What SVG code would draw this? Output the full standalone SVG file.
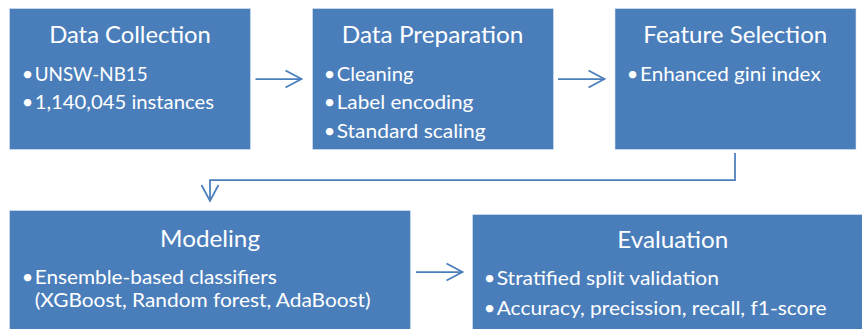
<svg xmlns="http://www.w3.org/2000/svg" width="862" height="329" viewBox="0 0 862 329">
<style>
.box{fill:#4A7EBB;stroke:#dbe5f1;stroke-width:1;stroke-opacity:0.6}
.t{font-family:Lato,"Open Sans",sans-serif;fill:#ffffff;font-size:24px;text-anchor:middle}
.b{font-family:Lato,"Open Sans",sans-serif;fill:#ffffff;font-size:20px}
.d{font-family:Lato,"Open Sans",sans-serif;fill:#ffffff;font-size:20px;text-anchor:middle}
.c{fill:none;stroke:#4A7EBB;stroke-width:1.75}
</style>
<defs>
<marker id="ah" markerUnits="userSpaceOnUse" markerWidth="24" markerHeight="24" viewBox="-20 -12 24 24" refX="0" refY="0" orient="auto">
<path d="M-16,-8.5 L0,0 L-16,8.5" fill="none" stroke="#4A7EBB" stroke-width="1.75"/>
</marker>
</defs>
<rect width="862" height="329" fill="#ffffff"/>
<g id="connectors">
<path class="c" d="M255.5,79 H301.5" marker-end="url(#ah)"/>
<path class="c" d="M558,79 H604.5" marker-end="url(#ah)"/>
<path class="c" d="M735,153 V180 H210 V201" marker-end="url(#ah)"/>
<path class="c" d="M416,272 H462.5" marker-end="url(#ah)"/>
</g>
<g id="data-collection">
<rect class="box" x="9.5" y="8.5" width="241" height="141"/>
<text class="t" x="130" y="43" textLength="161.7" lengthAdjust="spacingAndGlyphs">Data Collection</text>
<text class="d" x="27.5" y="80.5">•</text>
<text class="b" x="34.7" y="80.5" textLength="113" lengthAdjust="spacingAndGlyphs">UNSW-NB15</text>
<text class="d" x="27.5" y="109">•</text>
<text class="b" x="34.7" y="109" textLength="179.3" lengthAdjust="spacingAndGlyphs">1,140,045 instances</text>
</g>
<g id="data-preparation">
<rect class="box" x="312.5" y="8.5" width="241" height="141"/>
<text class="t" x="432.5" y="43" textLength="181.6" lengthAdjust="spacingAndGlyphs">Data Preparation</text>
<text class="d" x="329.5" y="80.5">•</text>
<text class="b" x="336.7" y="80.5" textLength="76.7" lengthAdjust="spacingAndGlyphs">Cleaning</text>
<text class="d" x="329.5" y="109">•</text>
<text class="b" x="336.7" y="109" textLength="136.7" lengthAdjust="spacingAndGlyphs">Label encoding</text>
<text class="d" x="329.5" y="137.5">•</text>
<text class="b" x="336.7" y="137.5" textLength="149" lengthAdjust="spacingAndGlyphs">Standard scaling</text>
</g>
<g id="feature-selection">
<rect class="box" x="615" y="8.5" width="241" height="141"/>
<text class="t" x="735.3" y="43" textLength="184" lengthAdjust="spacingAndGlyphs">Feature Selection</text>
<text class="d" x="632.5" y="80.5">•</text>
<text class="b" x="640" y="80.5" textLength="180.7" lengthAdjust="spacingAndGlyphs">Enhanced gini index</text>
</g>
<g id="modeling">
<rect class="box" x="9.5" y="210.5" width="401" height="130"/>
<text class="t" x="210" y="246.7" textLength="100" lengthAdjust="spacingAndGlyphs">Modeling</text>
<text class="d" x="27.5" y="283.5">•</text>
<text class="b" x="34.7" y="283.5" textLength="242" lengthAdjust="spacingAndGlyphs">Ensemble-based classifiers</text>
<text class="b" x="34.7" y="306.5" textLength="336" lengthAdjust="spacingAndGlyphs">(XGBoost, Random forest, AdaBoost)</text>
</g>
<g id="evaluation">
<rect class="box" x="472.5" y="214.5" width="401" height="130"/>
<text class="t" x="672.8" y="248.3" textLength="111" lengthAdjust="spacingAndGlyphs">Evaluation</text>
<text class="d" x="489.5" y="285">•</text>
<text class="b" x="496.7" y="285" textLength="222.3" lengthAdjust="spacingAndGlyphs">Stratified split validation</text>
<text class="d" x="489.5" y="314.5">•</text>
<text class="b" x="496.7" y="314.5" textLength="330" lengthAdjust="spacingAndGlyphs">Accuracy, precission, recall, f1-score</text>
</g>
</svg>
